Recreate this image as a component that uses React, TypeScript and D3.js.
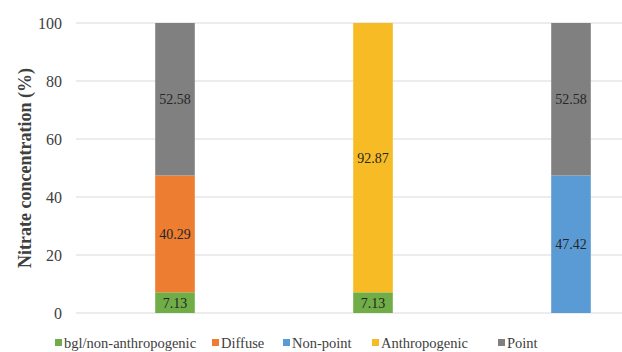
import React from "react";
import * as d3 from "d3";

const categories = ["A", "B", "C"];
const seriesNames = ["bgl/non-anthropogenic", "Diffuse", "Non-point", "Anthropogenic", "Point"];
const seriesColors = ["#70AD47", "#ED7D31", "#5B9BD5", "#F7BC25", "#808080"];
const bglValues = [7.13, 7.13, 0];
const diffuseValues = [40.29, 0, 0];
const nonPointValues = [0, 0, 47.42];
const anthropogenicValues = [0, 92.87, 0];
const pointValues = [52.58, 0, 52.58];
const yTicks = [0, 20, 40, 60, 80, 100];

const W = 622;
const H = 352;
const FONT = "Liberation Serif, Times New Roman, serif";

export default function App() {
  const seriesValues = [bglValues, diffuseValues, nonPointValues, anthropogenicValues, pointValues];
  const rows = categories.map((c, i) => {
    const r: any = { cat: c };
    seriesNames.forEach((s, k) => (r[s] = seriesValues[k][i]));
    return r;
  });
  const stacked = d3.stack<any>().keys(seriesNames)(rows);

  // plot area runs past the right edge of the canvas
  const x = d3.scaleBand().domain(categories).range([76, 670]).paddingInner(0.8).paddingOuter(0.4);
  const y = d3.scaleLinear().domain([0, 100]).range([313, 23]);

  const legendX = [55, 212, 283, 372, 498];

  return (
    <svg width={W} height={H} style={{ position: "absolute", left: 0, top: 0, fontFamily: FONT }}>
      <rect width={W} height={H} fill="#fff" />
      {yTicks.map((t) => (
        <g key={t}>
          <line x1={76} x2={W} y1={y(t)} y2={y(t)} stroke="#d9d9d9" strokeWidth={1} />
          <text x={62} y={y(t)} dy="0.35em" textAnchor="end" fontSize={16} fill="#404040">
            {t}
          </text>
        </g>
      ))}
      <text
        transform={`translate(25,${(y(0) + y(100)) / 2}) rotate(-90)`}
        textAnchor="middle"
        dy="0.35em"
        fontSize={18}
        fontWeight="bold"
        fill="#404040"
      >
        Nitrate concentration (%)
      </text>
      {stacked.map((layer, k) =>
        layer.map((d, i) => {
          const v = d[1] - d[0];
          if (v <= 0) return null;
          const bx = x(categories[i])!;
          return (
            <g key={`${k}-${i}`}>
              <rect x={bx} width={x.bandwidth()} y={y(d[1])} height={y(d[0]) - y(d[1])} fill={seriesColors[k]} />
              <text
                x={bx + x.bandwidth() / 2}
                y={(y(d[0]) + y(d[1])) / 2}
                dy="0.35em"
                textAnchor="middle"
                fontSize={14}
                fill="#262626"
              >
                {v.toFixed(2)}
              </text>
            </g>
          );
        })
      )}
      {seriesNames.map((s, k) => (
        <g key={s} transform={`translate(${legendX[k]},343)`}>
          <rect x={0} y={-4} width={7} height={7} fill={seriesColors[k]} />
          <text x={9} y={0} dy="0.35em" fontSize={14.5} fill="#404040">
            {s}
          </text>
        </g>
      ))}
    </svg>
  );
}
